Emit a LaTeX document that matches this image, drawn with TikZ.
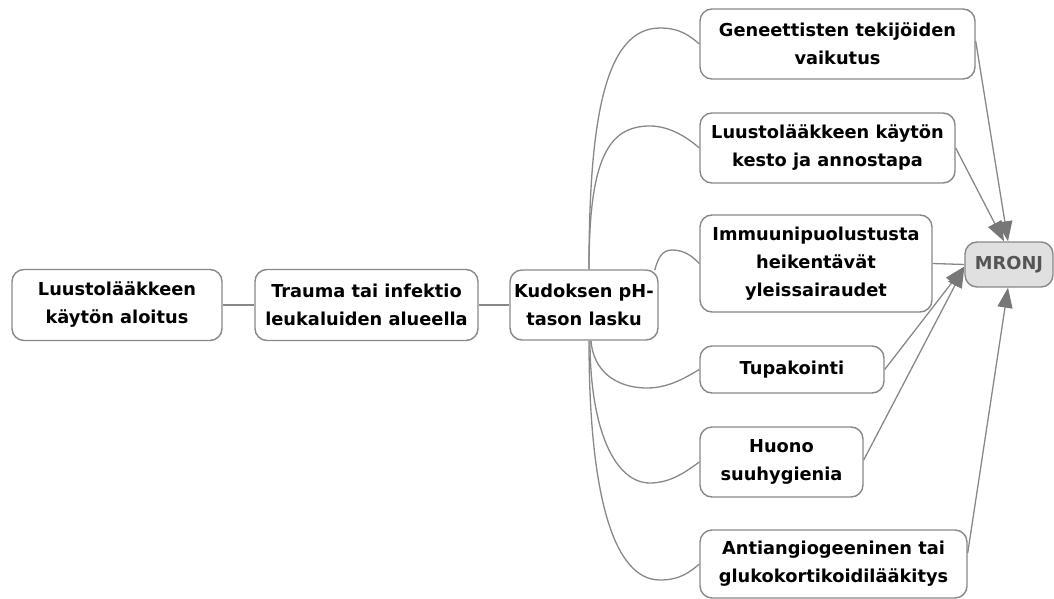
\documentclass[tikz,border=0pt]{standalone}
\usepackage{fontspec}
\setmainfont{DejaVu Sans}
\usetikzlibrary{arrows.meta,calc}
\definecolor{edgegray}{HTML}{888888}
\definecolor{tipgray}{HTML}{777777}
\definecolor{mfill}{HTML}{E0E0E0}
\definecolor{mtext}{HTML}{555555}
\tikzset{
  box/.style={draw=edgegray, line width=1.4pt, rounded corners=12pt, fill=white,
    inner sep=0pt, align=center, font=\fontsize{17.8}{28}\selectfont\bfseries},
  link/.style={draw=edgegray, line width=1.3pt},
  arr/.style={link, -{Triangle[length=20pt,width=15pt,fill=tipgray,color=tipgray]}},
}
\begin{document}
\begin{tikzpicture}[x=1pt,y=-1pt]
\useasboundingbox (0,0) rectangle (1054,599);
\coordinate (pG) at (660,28);
\coordinate (pK) at (650,126);
\coordinate (pI) at (672,250);
\coordinate (pT) at (647,388);
\coordinate (pH) at (650,483);
\coordinate (pA) at (660,580);

\node[box, minimum width=210pt, minimum height=71pt] (n1) at (117,305) {Luustolääkkeen\\käytön aloitus};
\node[box, minimum width=223pt, minimum height=71pt] (n2) at (366.5,305) {Trauma tai infektio\\leukaluiden alueella};
\node[box, minimum width=148pt, minimum height=70pt] (n3) at (584,305) {Kudoksen pH-\\tason lasku};
\node[box, minimum width=275pt, minimum height=70pt] (g) at (837.5,44) {Geneettisten tekijöiden\\vaikutus};
\node[box, minimum width=255pt, minimum height=70pt] (k) at (827.5,148) {Luustolääkkeen käytön\\kesto ja annostapa};
\node[box, minimum width=232pt, minimum height=97pt] (i) at (816,263.5) {Immuunipuolustusta\\heikentävät\\yleissairaudet};
\node[box, fill=mfill, text=mtext, minimum width=88pt, minimum height=45pt] (m) at (1009,264.5) {MRONJ};
\node[box, minimum width=184pt, minimum height=47pt] (t) at (792,369.5) {Tupakointi};
\node[box, minimum width=163pt, minimum height=70pt] (h) at (781.5,462) {Huono\\suuhygienia};
\node[box, minimum width=267pt, minimum height=68pt] (a) at (833.5,564) {Antiangiogeeninen tai\\glukokortikoidilääkitys};

\draw[link] (n1.east) -- (n2.west);
\draw[link] (n2.east) -- (n3.west);

\draw[link] ($(n3.north)+(5,0)$) .. controls ($(n3.north)+(5,-150)$) and (605,28) .. (pG)
  .. controls (680,28) and (690,36) .. (g.west);
\draw[link] ($(n3.north)+(5,0)$) .. controls ($(n3.north)+(5,-110)$) and (608,126) .. (pK)
  .. controls (670,126) and (688,138) .. (k.west);
\draw[link] ($(n3.north east)+(-4,1)$) .. controls (658,258) and (662,250) .. (pI)
  .. controls (685,250) and (693,257) .. (i.west);
\draw[link] ($(n3.south)+(7,0)$) .. controls (593,370) and (615,388) .. (pT)
  .. controls (670,388) and (688,376) .. (t.west);
\draw[link] ($(n3.south)+(6,0)$) .. controls (590,430) and (615,483) .. (pH)
  .. controls (672,483) and (688,470) .. (h.west);
\draw[link] ($(n3.south)+(5,0)$) .. controls (589,500) and (615,580) .. (pA)
  .. controls (680,580) and (690,572) .. (a.west);

\draw[arr] ($(g.east)+(0,-3)$) -- ($(m.north)+(-1,0)$);
\draw[arr] (k.east) -- ($(m.north)+(-5,0)$);
\draw[link] (i.east) -- (m.west);
\draw[arr] (t.east) -- ($(m.west)+(0,2)$);
\draw[arr] ($(h.east)+(0,-2)$) -- ($(m.west)+(0,3)$);
\draw[arr] ($(a.east)+(0,-11)$) -- ($(m.south)+(-1,0)$);
\end{tikzpicture}
\end{document}
